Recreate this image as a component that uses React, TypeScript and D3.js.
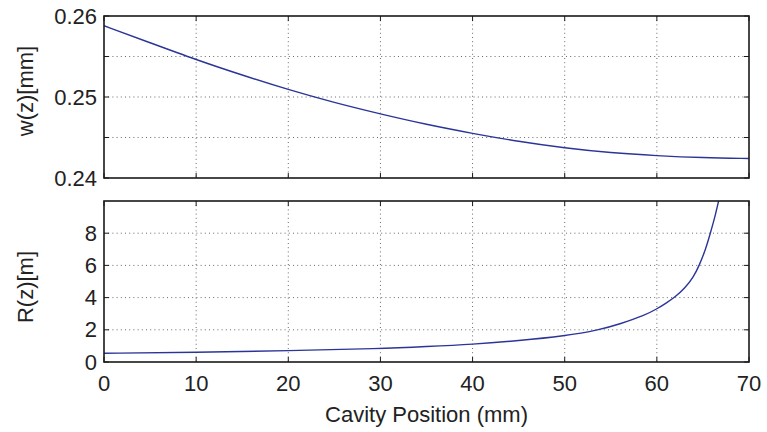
import React from "react";
import * as d3 from "d3";

const W = 767;
const H = 432;

// Top panel: beam radius w(z) [mm]
const wZ = [0, 5, 10, 15, 20, 25, 30, 35, 40, 45, 50, 55, 60, 65, 70];
const wVal = [0.2588, 0.2567, 0.2546, 0.2527, 0.2509, 0.2493, 0.2479, 0.2466, 0.2455, 0.2445, 0.2437, 0.2431, 0.24275, 0.2425, 0.2424];

// Bottom panel: radius of curvature R(z) [m]
const rZ = [0, 10, 20, 30, 35, 40, 45, 50, 53.8, 56, 58.7, 60, 61, 62, 63, 64, 64.6, 65.3, 65.8, 66.3, 66.7, 67.1];
const rVal = [0.54, 0.6, 0.7, 0.83, 0.96, 1.1, 1.32, 1.61, 2.0, 2.36, 2.9, 3.3, 3.65, 4.05, 4.55, 5.3, 6.0, 7.0, 8.0, 9.0, 10.0, 11.0];

const xTicks = [0, 10, 20, 30, 40, 50, 60, 70];
const wTicks = [0.24, 0.245, 0.25, 0.255, 0.26];
const wTickLabels = ["0.24", "", "0.25", "", "0.26"];
const rTicks = [0, 2, 4, 6, 8];

const FONT = "'Liberation Sans', Arial, Helvetica, sans-serif";
const FS = 22;
const LINE = "#2b3598";
const FRAME = "#1a1a1a";
const GRID = "#444";
const TEXT = "#222";

const left = 104;
const right = 749;
const top1 = 16;
const bot1 = 178;
const top2 = 201;
const bot2 = 362;

function Panel({
  yScale,
  yTicks,
  yLabels,
  xScale,
  showXLabels,
  top,
  bottom,
  path,
  clipId,
  ylabel,
  ylabelY,
}: any) {
  const tl = 5;
  return (
    <g>
      <defs>
        <clipPath id={clipId}>
          <rect x={left} y={top} width={right - left} height={bottom - top} />
        </clipPath>
      </defs>
      {xTicks
        .filter((t) => t > 0 && t < 70)
        .map((t) => (
          <line
            key={"gx" + t}
            x1={xScale(t)}
            x2={xScale(t)}
            y1={top}
            y2={bottom}
            stroke={GRID}
            strokeWidth={0.8}
            strokeDasharray="1 3.2"
          />
        ))}
      {yTicks
        .filter((t: number) => yScale(t) > top + 1 && yScale(t) < bottom - 1)
        .map((t: number) => (
          <line
            key={"gy" + t}
            x1={left}
            x2={right}
            y1={yScale(t)}
            y2={yScale(t)}
            stroke={GRID}
            strokeWidth={0.8}
            strokeDasharray="1 3.2"
          />
        ))}
      <path d={path} fill="none" stroke={LINE} strokeWidth={1.4} clipPath={`url(#${clipId})`} />
      {xTicks.map((t) => (
        <g key={"tx" + t}>
          <line x1={xScale(t)} x2={xScale(t)} y1={bottom} y2={bottom - tl} stroke={FRAME} strokeWidth={1} />
          <line x1={xScale(t)} x2={xScale(t)} y1={top} y2={top + tl} stroke={FRAME} strokeWidth={1} />
        </g>
      ))}
      {yTicks.map((t: number) => (
        <g key={"ty" + t}>
          <line x1={left} x2={left + tl} y1={yScale(t)} y2={yScale(t)} stroke={FRAME} strokeWidth={1} />
          <line x1={right} x2={right - tl} y1={yScale(t)} y2={yScale(t)} stroke={FRAME} strokeWidth={1} />
        </g>
      ))}
      <rect x={left} y={top} width={right - left} height={bottom - top} fill="none" stroke={FRAME} strokeWidth={1.6} />
      {yTicks.map((t: number, i: number) =>
        yLabels[i] ? (
          <text
            key={"ly" + t}
            x={left - 7}
            y={yScale(t)}
            textAnchor="end"
            dominantBaseline="central"
            fontFamily={FONT}
            fontSize={FS}
            fill={TEXT}
          >
            {yLabels[i]}
          </text>
        ) : null
      )}
      {showXLabels &&
        xTicks.map((t) => (
          <text
            key={"lx" + t}
            x={xScale(t)}
            y={bottom + 21}
            textAnchor="middle"
            dominantBaseline="central"
            fontFamily={FONT}
            fontSize={FS}
            fill={TEXT}
          >
            {t}
          </text>
        ))}
      <text
        transform={`translate(${25},${ylabelY}) rotate(-90)`}
        textAnchor="middle"
        dominantBaseline="central"
        fontFamily={FONT}
        fontSize={FS}
        fill={TEXT}
      >
        {ylabel}
      </text>
    </g>
  );
}

export default function App() {
  const x = d3.scaleLinear().domain([0, 70]).range([left, right]);
  const yW = d3.scaleLinear().domain([0.24, 0.26]).range([bot1, top1]);
  const yR = d3.scaleLinear().domain([0, 10]).range([bot2, top2]);

  const wLine = d3
    .line<number>()
    .x((_, i) => x(wZ[i]))
    .y((d) => yW(d))
    .curve(d3.curveBasis);
  const rLine = d3
    .line<number>()
    .x((_, i) => x(rZ[i]))
    .y((d) => yR(d))
    .curve(d3.curveBasis);

  return (
    <svg
      width={W}
      height={H}
      style={{ position: "absolute", left: 0, top: 0, background: "#fff" }}
    >
      <rect width={W} height={H} fill="#fff" />
      <Panel
        yScale={yW}
        yTicks={wTicks}
        yLabels={wTickLabels}
        xScale={x}
        showXLabels={false}
        top={top1}
        bottom={bot1}
        path={wLine(wVal) || ""}
        clipId="clipW"
        ylabel="w(z)[mm]"
        ylabelY={91}
      />
      <Panel
        yScale={yR}
        yTicks={rTicks}
        yLabels={rTicks.map(String)}
        xScale={x}
        showXLabels={true}
        top={top2}
        bottom={bot2}
        path={rLine(rVal) || ""}
        clipId="clipR"
        ylabel="R(z)[m]"
        ylabelY={287}
      />
      <text
        x={(left + right) / 2}
        y={414}
        textAnchor="middle"
        dominantBaseline="central"
        fontFamily={FONT}
        fontSize={FS}
        fill={TEXT}
      >
        Cavity Position (mm)
      </text>
    </svg>
  );
}
